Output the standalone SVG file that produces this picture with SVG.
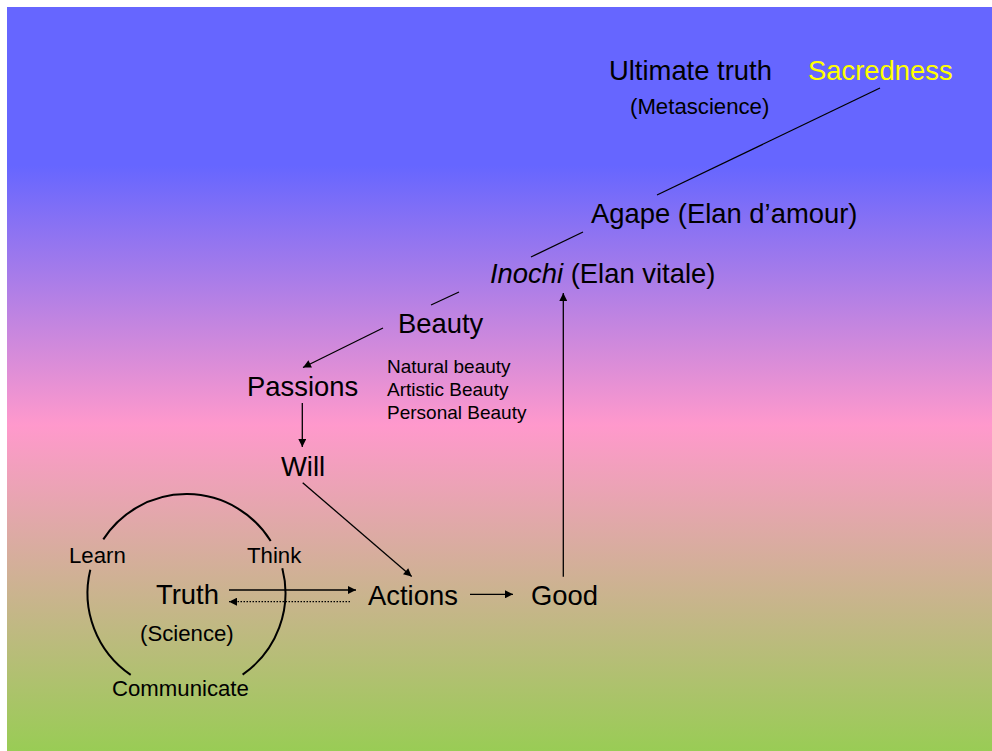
<svg xmlns="http://www.w3.org/2000/svg" width="992" height="751" viewBox="0 0 992 751">
<defs>
<linearGradient id="bg" gradientUnits="userSpaceOnUse" x1="0" y1="7" x2="0" y2="751">
<stop offset="0" stop-color="#6666ff"/>
<stop offset="0.213" stop-color="#6666ff"/>
<stop offset="0.562" stop-color="#ff99cc"/>
<stop offset="1" stop-color="#99cc55"/>
</linearGradient>
<marker id="ah" viewBox="0 0 10 10" refX="10" refY="5" markerWidth="9" markerHeight="8" markerUnits="userSpaceOnUse" orient="auto">
<path d="M0,0 L10,5 L0,10 z" fill="#000"/>
</marker>
</defs>
<style>
text{font-family:"Liberation Sans",Arial,sans-serif;fill:#000}
.big{font-size:27.4px}
.mid{font-size:22.2px}
.sm{font-size:19px}
.ln{stroke:#000;stroke-width:1.3;fill:none}
.arr{stroke:#000;stroke-width:1.3;fill:none;marker-end:url(#ah)}
.dot{stroke:#000;stroke-width:1.3;fill:none;stroke-dasharray:1.5 1.5;marker-end:url(#ah)}
.circ{stroke:#000;stroke-width:2;fill:none}
</style>
<rect x="7" y="7" width="985" height="744" fill="url(#bg)"/>
<g id="connectors">
<line class="ln" x1="880" y1="88" x2="657" y2="195"/>
<line class="ln" x1="583" y1="232" x2="531" y2="257"/>
<line class="ln" x1="459" y1="292" x2="431" y2="305"/>
<line class="arr" x1="383" y1="328" x2="303" y2="367.5"/>
<line class="arr" x1="302.3" y1="403" x2="302.3" y2="447"/>
<line class="arr" x1="302.7" y1="482.7" x2="411.7" y2="576.5"/>
<line class="arr" x1="229" y1="590" x2="356" y2="590"/>
<line class="dot" x1="350" y1="601.7" x2="229" y2="601.7"/>
<line class="arr" x1="470" y1="594.3" x2="513" y2="594.3"/>
<line class="arr" x1="563.3" y1="576.7" x2="563.3" y2="293"/>
<path class="circ" d="M103.3,539.4 A99,99 0 0 1 270.7,541"/>
<path class="circ" d="M282.3,568.3 A99,99 0 0 1 242.6,674.6"/>
<path class="circ" d="M130.7,674.8 A99,99 0 0 1 90.3,569.7"/>
</g>
<g id="ultimate-truth">
<text class="big" x="609" y="80">Ultimate truth</text>
<text class="mid" x="630" y="114">(Metascience)</text>
</g>
<g id="sacredness">
<text class="big" x="808" y="80" style="fill:#ffff00">Sacredness</text>
</g>
<g id="agape">
<text class="big" x="591" y="223">Agape (Elan d’amour)</text>
</g>
<g id="inochi">
<text class="big" x="490" y="283"><tspan font-style="italic">Inochi</tspan> (Elan vitale)</text>
</g>
<g id="beauty">
<text class="big" x="398" y="333">Beauty</text>
</g>
<g id="beauty-types">
<text class="sm" x="387" y="373">Natural beauty</text>
<text class="sm" x="387" y="396">Artistic Beauty</text>
<text class="sm" x="387" y="419">Personal Beauty</text>
</g>
<g id="passions">
<text class="big" x="247" y="396">Passions</text>
</g>
<g id="will">
<text class="big" x="281" y="476">Will</text>
</g>
<g id="actions">
<text class="big" x="368" y="605">Actions</text>
</g>
<g id="good">
<text class="big" x="531" y="605">Good</text>
</g>
<g id="truth">
<text class="big" x="156" y="604">Truth</text>
<text class="mid" x="140" y="641">(Science)</text>
</g>
<g id="learn">
<text class="mid" x="69" y="563">Learn</text>
</g>
<g id="think">
<text class="mid" x="247" y="563">Think</text>
</g>
<g id="communicate">
<text class="mid" x="112" y="696">Communicate</text>
</g>
</svg>
